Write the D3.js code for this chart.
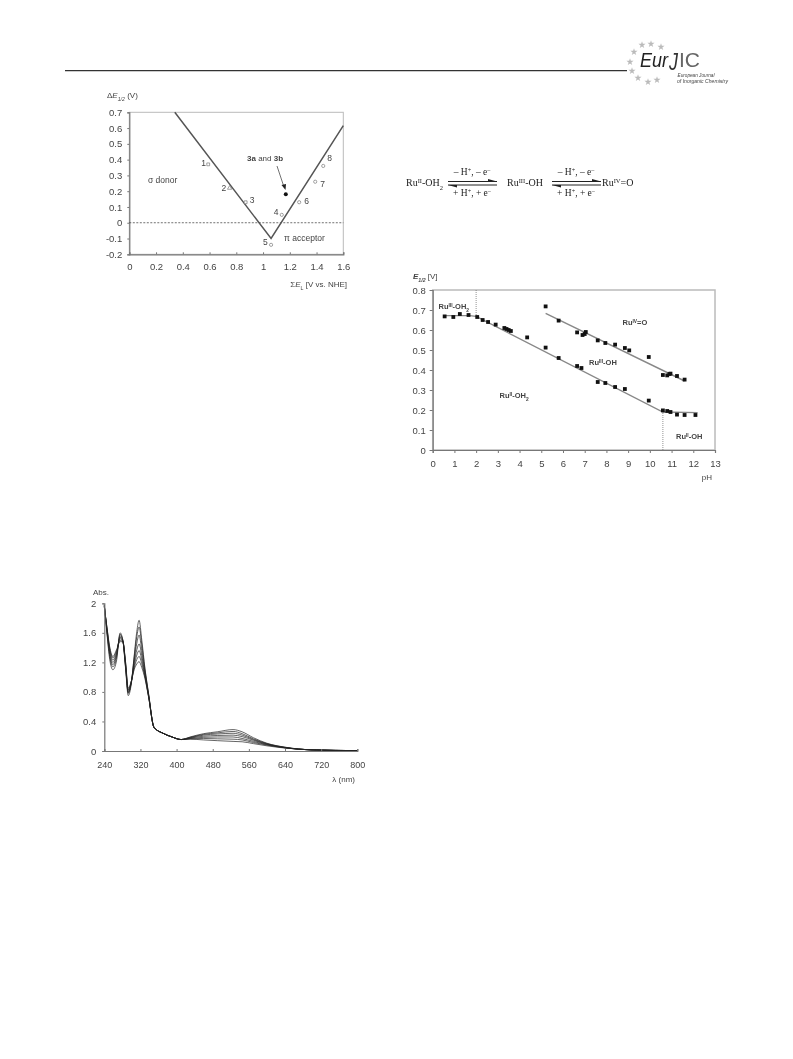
<!DOCTYPE html>
<html lang="en">
<head>
  <meta charset="UTF-8">
  <title>EurJIC figures</title>
  <style>
    body { margin: 0; background: #fff; }
    svg { display: block; filter: blur(0.35px); }
    text { font-family: "Liberation Sans", sans-serif; fill: #444; }
    .eq text { font-family: "Liberation Serif", serif; fill: #222; }
  </style>
</head>
<body>
  <svg id="svg" width="793" height="1059"></svg>

  <script src="https://d3js.org/d3.v7.min.js"></script>
  <script>
    // --- top left chart
    const vLine = [[0.34, 0.7], [1.06, -0.1], [1.6, 0.615]]
    const ligandNames = ['1', '2', '3', '4', '5', '6', '7', '8']
    const ligandX = [0.59, 0.75, 0.87, 1.14, 1.06, 1.27, 1.39, 1.45]
    const ligandY = [0.37, 0.22, 0.13, 0.05, -0.14, 0.13, 0.26, 0.36]
    const ligandShape = ['square', 'triangle', 'square', 'circle', 'circle', 'circle', 'circle', 'circle']
    const complexPoint = [1.17, 0.18]

    // --- pH chart
    const lowerPH = [0.55, 0.95, 1.25, 1.65, 2.05, 2.3, 2.55, 2.9, 3.3, 3.4, 3.5, 3.6, 4.35, 5.2, 5.8, 6.65, 6.85, 7.6, 7.95, 8.4, 8.85, 9.95, 10.6, 10.8, 10.95, 11.25, 11.6, 12.1]
    const lowerE = [0.668, 0.665, 0.68, 0.675, 0.665, 0.65, 0.64, 0.627, 0.61, 0.605, 0.6, 0.595, 0.563, 0.512, 0.46, 0.42, 0.41, 0.34, 0.335, 0.315, 0.305, 0.247, 0.198, 0.195, 0.19, 0.177, 0.175, 0.175]
    const upperPH = [5.2, 5.8, 6.65, 6.9, 7.0, 7.05, 7.6, 7.95, 8.4, 8.85, 9.05, 9.95, 10.6, 10.8, 10.9, 10.95, 11.25, 11.6]
    const upperE = [0.718, 0.647, 0.588, 0.575, 0.58, 0.59, 0.548, 0.535, 0.527, 0.51, 0.498, 0.465, 0.375, 0.373, 0.38, 0.382, 0.37, 0.352]
    const lowerFit = [[0.55, 0.672], [1.7, 0.672], [2, 0.668], [10.6, 0.19], [12.2, 0.187]]
    const upperFit = [[5.2, 0.683], [11.6, 0.345]]

    // --- spectra
    const lambda = [240, 246, 252, 259, 267, 275, 281, 287, 293, 300, 306, 312, 317, 323, 330, 338, 350, 370, 390, 410, 430, 460, 490, 525, 545, 570, 600, 640, 700, 800]
    const spectra = [
      [1.98, 1.58, 1.24, 1.10, 1.22, 1.60, 1.50, 1.12, 0.75, 0.92, 1.28, 1.62, 1.77, 1.50, 1.12, 0.78, 0.32, 0.24, 0.19, 0.155, 0.16, 0.15, 0.14, 0.13, 0.125, 0.10, 0.07, 0.04, 0.015, 0.005],
      [1.98, 1.60, 1.28, 1.14, 1.26, 1.58, 1.50, 1.14, 0.78, 0.94, 1.26, 1.55, 1.68, 1.44, 1.10, 0.77, 0.32, 0.24, 0.19, 0.155, 0.165, 0.17, 0.165, 0.16, 0.15, 0.115, 0.08, 0.042, 0.015, 0.005],
      [1.97, 1.62, 1.31, 1.17, 1.29, 1.56, 1.50, 1.15, 0.79, 0.94, 1.22, 1.46, 1.57, 1.36, 1.07, 0.76, 0.32, 0.24, 0.19, 0.155, 0.17, 0.185, 0.19, 0.19, 0.17, 0.13, 0.085, 0.045, 0.015, 0.005],
      [1.97, 1.63, 1.34, 1.20, 1.31, 1.54, 1.49, 1.17, 0.80, 0.94, 1.19, 1.37, 1.45, 1.29, 1.04, 0.75, 0.32, 0.24, 0.19, 0.155, 0.175, 0.20, 0.21, 0.215, 0.195, 0.145, 0.09, 0.045, 0.015, 0.005],
      [1.96, 1.65, 1.37, 1.23, 1.33, 1.52, 1.49, 1.18, 0.82, 0.94, 1.15, 1.30, 1.36, 1.23, 1.02, 0.74, 0.32, 0.24, 0.19, 0.155, 0.18, 0.215, 0.23, 0.24, 0.215, 0.155, 0.095, 0.047, 0.015, 0.005],
      [1.96, 1.66, 1.39, 1.26, 1.35, 1.50, 1.48, 1.20, 0.83, 0.95, 1.12, 1.24, 1.28, 1.18, 1.00, 0.74, 0.32, 0.24, 0.19, 0.155, 0.185, 0.225, 0.245, 0.265, 0.235, 0.165, 0.10, 0.05, 0.015, 0.005],
      [1.95, 1.67, 1.41, 1.28, 1.37, 1.48, 1.48, 1.21, 0.85, 0.95, 1.10, 1.18, 1.21, 1.13, 0.98, 0.73, 0.32, 0.24, 0.19, 0.155, 0.19, 0.235, 0.26, 0.29, 0.26, 0.18, 0.105, 0.052, 0.015, 0.005]
    ]
    const absTicks = [0, 0.4, 0.8, 1.2, 1.6, 2]
    const lambdaTicks = [240, 320, 400, 480, 560, 640, 720, 800]

    const svg = d3.select('#svg')
    const gray = '#777'

    // text with sub/superscript runs: [text, 'sub'|'sup'|'i'|'b']
    function rich(g, x, y, parts, size, anchor) {
      const t = g.append('text').attr('x', x).attr('y', y)
        .attr('font-size', size).attr('text-anchor', anchor || 'start')
      parts.forEach(p => {
        const s = t.append('tspan').text(p[0])
        ;(p[1] || '').split(' ').forEach(k => {
          if (k === 'sub') s.attr('baseline-shift', 'sub').attr('font-size', size * 0.65)
          if (k === 'sup') s.attr('baseline-shift', 'super').attr('font-size', size * 0.65)
          if (k === 'i') s.attr('font-style', 'italic')
          if (k === 'b') s.attr('font-weight', 'bold')
        })
      })
      return t
    }

    function styleAxis(g, size) {
      g.selectAll('.domain').attr('stroke', gray).attr('stroke-width', 1.2)
      g.selectAll('.tick line').attr('stroke', gray)
      g.selectAll('.tick text').attr('font-size', size).attr('font-family', '"Liberation Sans", sans-serif').attr('fill', '#444')
    }

    function frame(g, x, y, w) {
      g.append('rect')
        .attr('x', x.range()[0]).attr('y', y.range()[1])
        .attr('width', x.range()[1] - x.range()[0]).attr('height', y.range()[0] - y.range()[1])
        .attr('fill', 'none').attr('stroke', '#bbb').attr('stroke-width', w)
    }

    // header rule and logo
    svg.append('line').attr('x1', 65).attr('x2', 627).attr('y1', 70.7).attr('y2', 70.7)
      .attr('stroke', '#333').attr('stroke-width', 1.2)
    const logo = svg.append('g')
    logo.selectAll('path').data([[642, 45], [651, 44], [661, 47], [634, 52], [630, 62], [632, 71], [638, 78], [648, 82], [657, 80]])
      .enter().append('path')
      .attr('transform', d => `translate(${d[0]},${d[1]})`)
      .attr('d', d3.symbol(d3.symbolStar, 16)).attr('fill', '#bbb')
    logo.append('text').attr('x', 640).attr('y', 67).attr('font-size', 19.5).attr('font-style', 'italic')
      .attr('textLength', 28).attr('lengthAdjust', 'spacingAndGlyphs')
      .style('fill', '#222').text('Eur')
    logo.append('text').attr('x', 669).attr('y', 70).attr('font-size', 24).attr('font-style', 'italic')
      .attr('textLength', 9).attr('lengthAdjust', 'spacingAndGlyphs')
      .style('fill', '#333').text('J')
    logo.append('text').attr('x', 679).attr('y', 67).attr('font-size', 21)
      .style('fill', '#666').text('IC')
    logo.append('text').attr('x', 677.5).attr('y', 76.5).attr('font-size', 5.6).attr('font-style', 'italic')
      .attr('textLength', 37).attr('lengthAdjust', 'spacingAndGlyphs')
      .style('fill', '#444').text('European Journal')
    logo.append('text').attr('x', 677).attr('y', 82.5).attr('font-size', 5.6).attr('font-style', 'italic')
      .attr('textLength', 51).attr('lengthAdjust', 'spacingAndGlyphs')
      .style('fill', '#444').text('of Inorganic Chemistry')

    // chart 1
    const g1 = svg.append('g')
    const x1 = d3.scaleLinear().domain([0, 1.6]).range([129.3, 343.3])
    const y1 = d3.scaleLinear().domain([-0.2, 0.7]).range([254.3, 112.3])
    frame(g1, x1, y1, 1)
    g1.append('g').attr('transform', `translate(0,${y1(-0.2)})`)
      .call(d3.axisBottom(x1).tickValues(d3.range(0, 1.7, 0.2)).tickSize(-2).tickPadding(9).tickFormat(d3.format('~g')))
      .call(g => styleAxis(g, 9.5))
    g1.append('g').attr('transform', `translate(${x1(0)},0)`)
      .call(d3.axisLeft(y1).tickValues(d3.range(-2, 8).map(d => d / 10)).tickSize(2).tickPadding(5).tickFormat(d => d3.format('~g')(d).replace('−', '-')))
      .call(g => styleAxis(g, 9.5))
    g1.append('line').attr('x1', x1(0)).attr('x2', x1(1.6)).attr('y1', y1(0)).attr('y2', y1(0))
      .attr('stroke', '#333').attr('stroke-width', 0.7).attr('stroke-dasharray', '2,1.5')
    g1.append('path').datum(vLine)
      .attr('d', d3.line().x(d => x1(d[0])).y(d => y1(d[1])))
      .attr('fill', 'none').attr('stroke', '#555').attr('stroke-width', 1.5)
    ligandX.forEach((v, i) => {
      const type = ligandShape[i] === 'square' ? d3.symbolSquare : ligandShape[i] === 'triangle' ? d3.symbolTriangle : d3.symbolCircle
      g1.append('path').attr('transform', `translate(${x1(v)},${y1(ligandY[i])})`)
        .attr('d', d3.symbol(type, 8)).attr('fill', '#fff').attr('stroke', '#666').attr('stroke-width', 0.6)
    })
    g1.append('circle').attr('cx', x1(complexPoint[0])).attr('cy', y1(complexPoint[1])).attr('r', 2).attr('fill', '#111')
    const numOffset = [[-7, 0], [-8, 1], [4, -1], [-8, -2], [-8, -2], [5, 0], [5, 3], [4, -7]]
    ligandNames.forEach((n, i) => {
      rich(g1, x1(ligandX[i]) + numOffset[i][0], y1(ligandY[i]) + numOffset[i][1] + 2, [[n]], 8.5)
    })
    rich(g1, 247, 161, [['3a', 'b'], [' and '], ['3b', 'b']], 8)
    g1.append('line').attr('x1', 277).attr('y1', 166).attr('x2', 284).attr('y2', 187)
      .attr('stroke', '#333').attr('stroke-width', 0.7)
    g1.append('path').attr('d', 'M281.5,185 L286,184 L285.5,190 Z').attr('fill', '#222')
    rich(g1, 148, 183, [['σ donor']], 8.5)
    rich(g1, 284, 241, [['π acceptor']], 8.5)
    rich(g1, 107, 98, [['Δ'], ['E', 'i'], ['1/2', 'sub i'], [' (V)']], 8)
    rich(g1, 347, 287, [['Σ'], ['E', 'i'], ['L', 'sub'], [' [V vs. NHE]']], 8, 'end')

    // reaction scheme
    const eq = svg.append('g').attr('class', 'eq')
    rich(eq, 406, 186, [['Ru'], ['II', 'sup'], ['-OH'], ['2', 'sub']], 10)
    rich(eq, 507, 186, [['Ru'], ['III', 'sup'], ['-OH']], 10)
    rich(eq, 602, 186, [['Ru'], ['IV', 'sup'], ['=O']], 10)
    rich(eq, 472, 175, [['– H'], ['+', 'sup'], [', – e'], ['–', 'sup']], 9.5, 'middle')
    rich(eq, 472, 196, [['+ H'], ['+', 'sup'], [', + e'], ['–', 'sup']], 9.5, 'middle')
    rich(eq, 576, 175, [['– H'], ['+', 'sup'], [', – e'], ['–', 'sup']], 9.5, 'middle')
    rich(eq, 576, 196, [['+ H'], ['+', 'sup'], [', + e'], ['–', 'sup']], 9.5, 'middle')
    ;[[448, 497], [552, 601]].forEach(a => {
      eq.append('line').attr('x1', a[0]).attr('x2', a[1]).attr('y1', 181.5).attr('y2', 181.5).attr('stroke', '#222')
      eq.append('line').attr('x1', a[0]).attr('x2', a[1]).attr('y1', 185).attr('y2', 185).attr('stroke', '#222')
      eq.append('path').attr('d', `M${a[1]},181.5 L${a[1] - 9},179 L${a[1] - 9},181.5 Z`).attr('fill', '#222')
      eq.append('path').attr('d', `M${a[0]},185 L${a[0] + 9},187.5 L${a[0] + 9},185 Z`).attr('fill', '#222')
    })

    // chart 2
    const g2 = svg.append('g')
    const x2 = d3.scaleLinear().domain([0, 13]).range([432.7, 715])
    const y2 = d3.scaleLinear().domain([0, 0.8]).range([450, 290])
    frame(g2, x2, y2, 1.5)
    g2.append('g').attr('transform', 'translate(0,450)')
      .call(d3.axisBottom(x2).tickValues(d3.range(0, 14)).tickSize(3).tickPadding(7))
      .call(g => styleAxis(g, 9.5))
    g2.append('g').attr('transform', `translate(${x2(0)},0)`)
      .call(d3.axisLeft(y2).tickValues(d3.range(0, 9).map(d => d / 10)).tickSize(3).tickPadding(4).tickFormat(d3.format('~g')))
      .call(g => styleAxis(g, 9.5))
    const line2 = d3.line().x(d => x2(d[0])).y(d => y2(d[1]))
    ;[lowerFit, upperFit].forEach(f => {
      g2.append('path').datum(f).attr('d', line2).attr('fill', 'none').attr('stroke', '#888').attr('stroke-width', 1.4)
    })
    g2.append('line').attr('x1', x2(2)).attr('x2', x2(2)).attr('y1', y2(0.8)).attr('y2', y2(0.668))
      .attr('stroke', '#666').attr('stroke-width', 0.7).attr('stroke-dasharray', '1,1')
    g2.append('line').attr('x1', x2(10.6)).attr('x2', x2(10.6)).attr('y1', y2(0)).attr('y2', y2(0.19))
      .attr('stroke', '#666').attr('stroke-width', 0.7).attr('stroke-dasharray', '1,1')
    const sq = 3.8
    lowerPH.forEach((p, i) => {
      g2.append('rect').attr('x', x2(p) - sq / 2).attr('y', y2(lowerE[i]) - sq / 2).attr('width', sq).attr('height', sq).attr('fill', '#111')
    })
    upperPH.forEach((p, i) => {
      g2.append('rect').attr('x', x2(p) - sq / 2).attr('y', y2(upperE[i]) - sq / 2).attr('width', sq).attr('height', sq).attr('fill', '#111')
    })
    rich(g2, 413, 279, [['E', 'i b'], ['1/2', 'sub i b'], [' [V]']], 8)
    rich(g2, 712, 480, [['pH']], 8, 'end')
    const rb = (x, y, ox, tail, sub) => rich(g2, x, y, [['Ru', 'b'], [ox, 'sup b'], [tail, 'b'], [sub || '', 'sub b']], 7.5)
    rb(438.5, 309, 'III', '-OH', '2')
    rb(622.5, 325, 'IV', '=O')
    rb(589, 365, 'III', '-OH')
    rb(499.5, 398, 'II', '-OH', '2')
    rb(676, 439, 'II', '-OH')

    // chart 3
    const g3 = svg.append('g')
    const x3 = d3.scaleLinear().domain([240, 800]).range([104.3, 357.3])
    const y3 = d3.scaleLinear().domain([0, 2]).range([751, 603.3])
    const line3 = d3.line().x((d, i) => x3(lambda[i])).y(d => y3(d)).curve(d3.curveMonotoneX)
    g3.selectAll('path.sp').data(spectra).enter().append('path').attr('class', 'sp')
      .attr('d', line3).attr('fill', 'none').attr('stroke', '#222').attr('stroke-width', 0.7)
    g3.append('g').attr('transform', 'translate(0,751)')
      .call(d3.axisBottom(x3).tickValues(lambdaTicks).tickSize(-2).tickPadding(11))
      .call(g => styleAxis(g, 9))
    g3.append('g').attr('transform', `translate(${x3(240)},0)`)
      .call(d3.axisLeft(y3).tickValues(absTicks).tickSize(2).tickPadding(6).tickFormat(d3.format('~g')))
      .call(g => styleAxis(g, 9.5))
    rich(g3, 93, 595, [['Abs.']], 8)
    rich(g3, 355, 782, [['λ (nm)']], 8, 'end')
  </script>
</body>
</html>
